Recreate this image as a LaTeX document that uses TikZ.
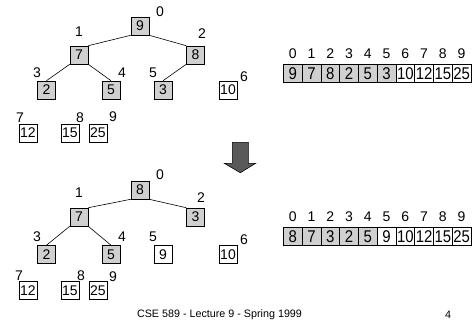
\documentclass[tikz,border=0pt]{standalone}
\usepackage{fontspec}
\setmainfont{Liberation Sans}
\usepackage{graphicx}
\definecolor{heapgray}{HTML}{D0D0D0}
\definecolor{arrowgray}{HTML}{5A5A5A}
\begin{document}
\begin{tikzpicture}[x=1pt,y=-1pt,
  hbox/.style={draw=black,line width=0.6pt,minimum width=18pt,minimum height=18pt,inner sep=0pt,font=\fontsize{14}{14}\selectfont},
  fullbox/.style={hbox,fill=heapgray},
  freebox/.style={hbox,fill=white},
  lbl/.style={inner sep=0pt,font=\fontsize{14}{14}\selectfont},
  tedge/.style={line width=0.6pt},
  cellbox/.style={draw=black,line width=0.6pt,minimum width=18.75pt,minimum height=18.5pt,inner sep=0pt,font=\fontsize{17}{17}\selectfont},
  foot/.style={inner sep=0pt,font=\fontsize{10.75}{11}\selectfont}]
\useasboundingbox (0,0) rectangle (476,322);
% ---------- top tree ----------
\node[fullbox] (t0) at (140,26) {9};
\node[fullbox] (t1) at (79,55) {7};
\node[fullbox] (t2) at (195.5,55) {8};
\node[fullbox] (t3) at (46.5,90) {2};
\node[fullbox] (t4) at (111,90) {5};
\node[fullbox] (t5) at (163,90) {3};
\node[freebox] (t6) at (228,90) {10};
\node[freebox] (t7) at (28,133) {12};
\node[freebox] (t8) at (70,133) {15};
\node[freebox] (t9) at (98,133) {25};
\draw[tedge] (t0.south west) -- (t1.north east);
\draw[tedge] (t0.south east) -- (t2.north west);
\draw[tedge] (t1.south west) -- (t3.north);
\draw[tedge] (t1.south east) -- (t4.north);
\draw[tedge] (t2.south west) -- (t5.north);
\node[lbl] (tl0) at (160,12) {0};
\node[lbl] (tl1) at (79,32) {1};
\node[lbl] (tl2) at (202,34) {2};
\node[lbl] (tl3) at (37,73) {3};
\node[lbl] (tl4) at (122,73) {4};
\node[lbl] (tl5) at (153,73) {5};
\node[lbl] (tl6) at (244,77) {6};
\node[lbl] (tl7) at (20,118) {7};
\node[lbl] (tl8) at (80,118) {8};
\node[lbl] (tl9) at (113,117) {9};
% ---------- bottom tree ----------
\node[fullbox] (b0) at (140,190) {8};
\node[fullbox] (b1) at (79,217) {7};
\node[fullbox] (b2) at (195.5,217) {3};
\node[fullbox] (b3) at (46.5,254.5) {2};
\node[fullbox] (b4) at (111,254.5) {5};
\node[freebox] (b5) at (163,254.5) {9};
\node[freebox] (b6) at (228,254.5) {10};
\node[freebox] (b7) at (28,290.5) {12};
\node[freebox] (b8) at (70,290.5) {15};
\node[freebox] (b9) at (98,290.5) {25};
\draw[tedge] (b0.south west) -- (b1.north east);
\draw[tedge] (b0.south east) -- (b2.north west);
\draw[tedge] (b1.south west) -- (b3.north);
\draw[tedge] (b1.south east) -- (b4.north);
\node[lbl] (bl0) at (160,175) {0};
\node[lbl] (bl1) at (79,193) {1};
\node[lbl] (bl2) at (201,198) {2};
\node[lbl] (bl3) at (37,237) {3};
\node[lbl] (bl4) at (122,236.5) {4};
\node[lbl] (bl5) at (153,236.5) {5};
\node[lbl] (bl6) at (244,240) {6};
\node[lbl] (bl7) at (19,275.5) {7};
\node[lbl] (bl8) at (81,275.5) {8};
\node[lbl] (bl9) at (113,276.5) {9};
% ---------- top array ----------
\foreach \v/\f [count=\i from 0] in {9/heapgray,7/heapgray,8/heapgray,2/heapgray,5/heapgray,3/heapgray,10/white,12/white,15/white,25/white}{
  \node[cellbox,fill=\f] (ta\i) at ({283.5+18.75*(\i+0.5)},73.3) {\scalebox{0.88}[1]{\v}};
  \node[lbl] (tai\i) at ({283.5+18.75*(\i+0.5)},53.3) {\i};
}
% ---------- bottom array ----------
\foreach \v/\f [count=\i from 0] in {8/heapgray,7/heapgray,3/heapgray,2/heapgray,5/heapgray,9/white,10/white,12/white,15/white,25/white}{
  \node[cellbox,fill=\f] (ba\i) at ({283.5+18.75*(\i+0.5)},236.3) {\scalebox{0.88}[1]{\v}};
  \node[lbl] (bai\i) at ({283.5+18.75*(\i+0.5)},216.3) {\i};
}
% ---------- down arrow ----------
\draw[fill=arrowgray,draw=black,line width=0.6pt,line join=miter]
  (232.3,142.3) -- (248.3,142.3) -- (248.3,163.3) -- (255.7,163.3) -- (240.3,172.7)
  -- (224.3,163.3) -- (232.3,163.3) -- cycle;
% ---------- footer ----------
\node[foot] (title) at (219.5,315) {CSE 589 - Lecture 9 - Spring 1999};
\node[foot] (page) at (448,315) {4};
\end{tikzpicture}
\end{document}
